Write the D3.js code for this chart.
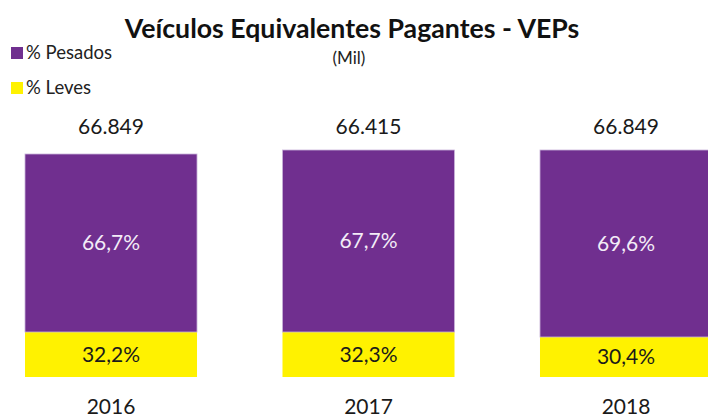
<!DOCTYPE html>
<html><head><meta charset="utf-8">
<script src="https://cdn.jsdelivr.net/npm/d3@7"></script>
<style>body{margin:0;background:#fff}svg{display:block}</style>
</head><body>
<svg id="c" width="708" height="417"></svg>
<script>
const years = ["2016", "2017", "2018"];
const totalLabels = ["66.849", "66.415", "66.849"];
const pesadosPct = ["66,7%", "67,7%", "69,6%"];
const levesPct = ["32,2%", "32,3%", "30,4%"];
// segment sizes as drawn (mil VEPs)
const levesSegment = [13.5, 13.5, 12.0];
const pesadosSegment = [53.4, 54.6, 56.1];

const svg = d3.select("#c");
const font = "Lato, 'Open Sans', sans-serif";
const purple = "#702f8f", yellow = "#fff200";

const x = d3.scaleBand().domain(years).range([25, 712]).paddingInner(0.332).paddingOuter(0);
const y = d3.scaleLinear().domain([0, 66.9]).range([377, 154]);

const data = years.map((yr, i) => ({yr, l: levesSegment[i], p: pesadosSegment[i], i}));

const g = svg.append("g");
g.selectAll("rect.l").data(data).join("rect").attr("class", "l")
  .attr("x", d => x(d.yr)).attr("width", x.bandwidth())
  .attr("y", d => y(d.l)).attr("height", d => y(0) - y(d.l))
  .attr("fill", yellow);
g.selectAll("rect.p").data(data).join("rect").attr("class", "p")
  .attr("x", d => x(d.yr)).attr("width", x.bandwidth())
  .attr("y", d => y(d.l + d.p)).attr("height", d => y(d.l) - y(d.l + d.p))
  .attr("fill", purple).attr("stroke", "#c9b3d9").attr("stroke-width", 0.8);

g.selectAll("text.pl").data(data).join("text").attr("class", "pl")
  .attr("x", d => x(d.yr) + x.bandwidth() / 2)
  .attr("y", d => (y(d.l) + y(d.l + d.p)) / 2)
  .attr("dy", "0.35em").attr("text-anchor", "middle")
  .attr("font-family", font).attr("font-size", 21).attr("fill", "#f3ecf7")
  .text(d => pesadosPct[d.i]);
g.selectAll("text.ll").data(data).join("text").attr("class", "ll")
  .attr("x", d => x(d.yr) + x.bandwidth() / 2)
  .attr("y", d => (y(0) + y(d.l)) / 2)
  .attr("dy", "0.35em").attr("text-anchor", "middle")
  .attr("font-family", font).attr("font-size", 21).attr("fill", "#1a1a1a")
  .text(d => levesPct[d.i]);
g.selectAll("text.t").data(data).join("text").attr("class", "t")
  .attr("x", d => x(d.yr) + x.bandwidth() / 2)
  .attr("y", 127).attr("dy", "0.35em").attr("text-anchor", "middle")
  .attr("font-family", font).attr("font-size", 21).attr("fill", "#1a1a1a")
  .text(d => totalLabels[d.i]);

const ax = svg.append("g").attr("transform", "translate(0,396)")
  .call(d3.axisBottom(x).tickSize(0).tickPadding(3));
ax.select(".domain").remove();
ax.selectAll("text").attr("font-family", font).attr("font-size", 21).attr("fill", "#1a1a1a");

svg.append("text").attr("x", 352).attr("y", 38).attr("text-anchor", "middle")
  .attr("font-family", font).attr("font-weight", "bold").attr("font-size", 26.7)
  .attr("fill", "#111").text("Veículos Equivalentes Pagantes - VEPs");
svg.append("text").attr("x", 349).attr("y", 58).attr("dy", "0.35em").attr("text-anchor", "middle")
  .attr("font-family", font).attr("font-size", 17).attr("fill", "#222").text("(Mil)");

const leg = [{name: "% Pesados", c: purple}, {name: "% Leves", c: yellow}];
const lg = svg.selectAll("g.leg").data(leg).join("g").attr("class", "leg")
  .attr("transform", (d, i) => `translate(11,${47 + i * 35})`);
lg.append("rect").attr("width", 12).attr("height", 12).attr("fill", d => d.c);
lg.append("text").attr("x", 15).attr("y", 6).attr("dy", "0.35em")
  .attr("font-family", font).attr("font-size", 18.5).attr("fill", "#222").text(d => d.name);
</script>
</body></html>
